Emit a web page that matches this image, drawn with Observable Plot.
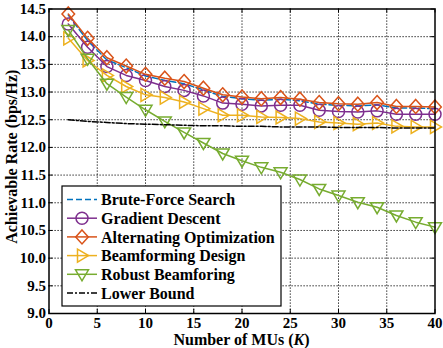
<!DOCTYPE html>
<html>
<head>
<meta charset="utf-8">
<script src="https://cdn.jsdelivr.net/npm/d3@7"></script>
<script src="https://cdn.jsdelivr.net/npm/@observablehq/plot@0.6"></script>
<style>
  html, body { margin: 0; padding: 0; background: #fff; }
  #chart svg { display: block; }
</style>
</head>
<body>
<div id="chart"></div>
<script>
// ---- data ----
const K = [2, 4, 6, 8, 10, 12, 14, 16, 18, 20, 22, 24, 26, 28, 30, 32, 34, 36, 38, 40];
const bruteForce  = [14.39, 13.93, 13.58, 13.44, 13.29, 13.21, 13.15, 13.04, 12.92, 12.88, 12.85, 12.87, 12.84, 12.78, 12.76, 12.75, 12.77, 12.71, 12.71, 12.70];
const gradient    = [14.23, 13.81, 13.46, 13.30, 13.21, 13.10, 13.03, 12.93, 12.80, 12.78, 12.75, 12.76, 12.76, 12.67, 12.65, 12.64, 12.66, 12.60, 12.60, 12.60];
const alternating = [14.41, 13.97, 13.62, 13.47, 13.32, 13.25, 13.19, 13.07, 12.95, 12.91, 12.88, 12.90, 12.87, 12.81, 12.79, 12.78, 12.81, 12.74, 12.74, 12.73];
const beamforming = [13.97, 13.57, 13.30, 13.10, 12.95, 12.90, 12.82, 12.70, 12.58, 12.58, 12.55, 12.54, 12.52, 12.46, 12.44, 12.42, 12.44, 12.38, 12.37, 12.37];
const robust      = [14.12, 13.60, 13.15, 12.91, 12.68, 12.47, 12.27, 12.08, 11.89, 11.76, 11.64, 11.55, 11.42, 11.25, 11.13, 11.01, 10.92, 10.77, 10.65, 10.56];
const lowerBound  = [12.50, 12.47, 12.45, 12.43, 12.42, 12.41, 12.40, 12.39, 12.39, 12.38, 12.38, 12.37, 12.37, 12.37, 12.36, 12.36, 12.36, 12.35, 12.35, 12.35];

const seriesNames = ["Brute-Force Search", "Gradient Descent", "Alternating Optimization", "Beamforming Design", "Robust Beamforing", "Lower Bound"];
const xTicks = [0, 5, 10, 15, 20, 25, 30, 35, 40];
const yTicks = [9.0, 9.5, 10.0, 10.5, 11.0, 11.5, 12.0, 12.5, 13.0, 13.5, 14.0, 14.5];
const xLabel = "Number of MUs (";
const xLabelItalic = "K";
const yLabel = "Achievable Rate (bps/Hz)";

// ---- styling ----
const colors = {
  brute: "#0072BD", grad: "#7E2F8E", alt: "#D95319", beam: "#EDB120", robust: "#77AC30", lower: "#000000"
};
const FONT = "'Liberation Serif', 'Times New Roman', serif";

// custom marker shapes (pixel geometry, independent of size)
const symCircle = { draw(c) { c.moveTo(6, 0); c.arc(0, 0, 6, 0, 2 * Math.PI); c.closePath(); } };
const symDiamond = { draw(c) { c.moveTo(0, -7); c.lineTo(6.3, 0); c.lineTo(0, 7); c.lineTo(-6.3, 0); c.closePath(); } };
const symTriRight = { draw(c) { c.moveTo(-4.5, -6.5); c.lineTo(6.5, 0); c.lineTo(-4.5, 6.5); c.closePath(); } };
const symTriDown = { draw(c) { c.moveTo(-6.5, -4.5); c.lineTo(6.5, -4.5); c.lineTo(0, 6.5); c.closePath(); } };

const rows = vals => K.map((k, i) => ({ k, v: vals[i] }));

const W = 443, H = 348;
const mL = 48.5, mR = 8.5, mT = 8.5, mB = 35;
const frameH = H - mT - mB;
const frameW = W - mL - mR;
const tickLen = 4;

const gridStyle = { stroke: "#000", strokeOpacity: 1, strokeDasharray: "1.2,1.8", strokeWidth: 1 };

const series = [
  { vals: bruteForce, color: colors.brute, dash: "6,3", sym: null },
  { vals: gradient, color: colors.grad, dash: null, sym: symCircle },
  { vals: alternating, color: colors.alt, dash: null, sym: symDiamond },
  { vals: beamforming, color: colors.beam, dash: null, sym: symTriRight },
  { vals: robust, color: colors.robust, dash: null, sym: symTriDown },
  { vals: lowerBound, color: colors.lower, dash: "6,2,2,2", sym: null }
];

const marks = [
  Plot.gridX(xTicks.slice(1, -1), gridStyle),
  Plot.gridY(yTicks.slice(1, -1), gridStyle),
  // inner ticks
  Plot.tickX(xTicks, { x: d => d, stroke: "#000", strokeWidth: 1, insetTop: frameH - tickLen }),
  Plot.tickX(xTicks, { x: d => d, stroke: "#000", strokeWidth: 1, insetBottom: frameH - tickLen }),
  Plot.tickY(yTicks, { y: d => d, stroke: "#000", strokeWidth: 1, insetRight: frameW - tickLen }),
  Plot.tickY(yTicks, { y: d => d, stroke: "#000", strokeWidth: 1, insetLeft: frameW - tickLen }),
  Plot.axisX(xTicks, { tickSize: 0, tickPadding: 4, label: null, tickFormat: d => String(d), fontSize: 15, fontWeight: "bold" }),
  Plot.axisY(yTicks, { tickSize: 0, tickPadding: 3, label: null, tickFormat: d3.format(".1f"), fontSize: 15, fontWeight: "bold" })
];

for (const s of series) {
  marks.push(Plot.line(rows(s.vals), { x: "k", y: "v", stroke: s.color, strokeWidth: 1.5, strokeDasharray: s.dash || undefined }));
  if (s.sym) {
    marks.push(Plot.dot(rows(s.vals), { x: "k", y: "v", symbol: s.sym, r: 6, stroke: s.color, fill: "none", strokeWidth: 1.5 }));
  }
}
marks.push(Plot.frame({ stroke: "#000", strokeWidth: 1.5 }));

const chart = Plot.plot({
  width: W, height: H,
  marginLeft: mL, marginRight: mR, marginTop: mT, marginBottom: mB,
  x: { domain: [0, 40] },
  y: { domain: [9, 14.5] },
  style: { fontFamily: FONT, fontWeight: "bold", fontSize: "15px", color: "#000", background: "#fff", overflow: "visible" },
  marks
});
document.getElementById("chart").appendChild(chart);

// ---- axis labels and legend (added to the same SVG) ----
const svg = d3.select(chart);

const xl = svg.append("text")
  .attr("x", mL + frameW / 2).attr("y", H - 3)
  .attr("text-anchor", "middle")
  .attr("font-family", FONT).attr("font-weight", "bold").attr("font-size", 16).attr("fill", "#000");
xl.append("tspan").text(xLabel);
xl.append("tspan").attr("font-style", "italic").text(xLabelItalic);
xl.append("tspan").text(")");

svg.append("text")
  .attr("transform", `translate(16.5, ${mT + frameH / 2 - 4}) rotate(-90)`)
  .attr("text-anchor", "middle")
  .attr("font-family", FONT).attr("font-weight", "bold").attr("font-size", 16).attr("fill", "#000")
  .text(yLabel);

const lg = svg.append("g");
const lgX = 62, lgY = 186, lgW = 219, lgH = 120;
lg.append("rect").attr("x", lgX).attr("y", lgY).attr("width", lgW).attr("height", lgH)
  .attr("fill", "#fff").attr("stroke", "#000").attr("stroke-width", 1.2);
series.forEach((s, i) => {
  const cy = lgY + 13.5 + i * 18.7;
  lg.append("line").attr("x1", lgX + 5).attr("x2", lgX + 35).attr("y1", cy).attr("y2", cy)
    .attr("stroke", s.color).attr("stroke-width", 1.5)
    .attr("stroke-dasharray", s.dash || null);
  if (s.sym) {
    lg.append("path").attr("transform", `translate(${lgX + 20},${cy})`)
      .attr("d", d3.symbol().type(s.sym)())
      .attr("fill", "none").attr("stroke", s.color).attr("stroke-width", 1.5);
  }
  lg.append("text").attr("x", lgX + 39).attr("y", cy).attr("dy", "0.35em")
    .attr("text-anchor", "start")
    .attr("font-family", FONT).attr("font-weight", "bold").attr("font-size", 16).attr("fill", "#000")
    .text(seriesNames[i]);
});
</script>
</body>
</html>
